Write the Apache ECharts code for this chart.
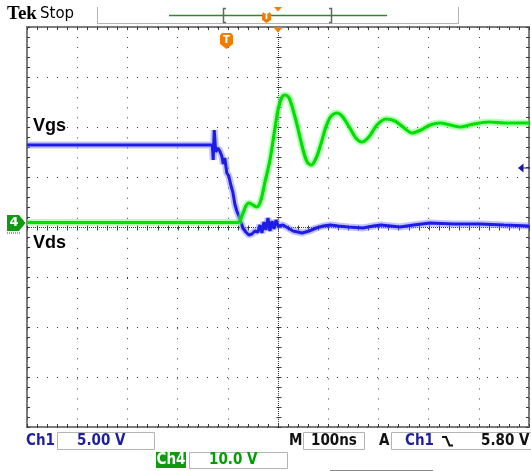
<!DOCTYPE html>
<html><head><meta charset="utf-8">
<script src="https://cdn.jsdelivr.net/npm/echarts@6/dist/echarts.min.js"></script>
<style>html,body{margin:0;padding:0;background:#fff}#c{width:531px;height:471px}</style>
</head><body><div id="c"></div>
<script>
// Time in ns relative to screen centre (100 ns/div, 10 div)
const ch1Time = [-500,-131,-129,-127,-124,-120,-116,-112,-109,-106,-102,-98,-94,-90,-86,-82,-78,-74,-70,-64,-58,-52,-46,-40,-36,-32,-28,-24,-20,-16,-12,-8,-4,0,10,20,30,48,62,76,90,104,120,140,169,190,205,243,270,303,350,402,450,500];
const ch1Volts = [8.1,8.1,6.6,9.6,7.4,7.8,7.5,7.0,6.2,6.8,5.3,5.0,4.1,3.4,2.2,1.5,1.0,0.4,-0.2,-0.6,-0.9,-0.8,-0.5,-0.6,0.1,-0.7,0.4,-0.4,0.8,-0.5,0.5,-0.3,0.6,0.0,0.1,-0.2,-0.5,-0.7,-0.5,-0.2,0.0,0.1,0.0,-0.1,-0.2,0.0,0.1,-0.1,0.1,0.3,0.2,0.2,0.1,0.0];
const ch4Time = [-500,-80,-72,-64,-58,-50,-42,-34,-26,-16,-6,0,8,14,22,30,38,50,58,66,76,86,96,106,118,129,143,155,167,181,197,215,233,249,267,285,303,323,343,363,382,402,422,452,500];
const ch4Volts = [0,0,1.3,3.3,3.9,3.5,3.1,4.5,8.1,12.5,18.9,22.5,25.1,25.5,24.9,22.5,19.5,14.5,12.1,11.5,12.9,15.9,19.3,21.3,21.9,21.1,18.9,16.9,16.1,17.1,19.5,20.7,20.3,19.1,17.9,18.5,19.5,19.9,19.5,19.1,19.5,19.9,20.1,19.9,19.9];
const ch1Label = 'Vgs', ch4Label = 'Vds';
const ch1Scale = '5.00 V', ch4Scale = '10.0 V', timeBase = '100ns', trigLevel = '5.80 V';

function zip(t, v) { return t.map((x, i) => [x, v[i]]); }

function drawGraticule(params, api) {
  const ch = [];
  const L = api.coord([-500, 0])[0], R = api.coord([500, 0])[0];
  const T = api.coord([0, 4])[1], B = api.coord([0, -4])[1];
  const c = api.coord([0, 0]);
  const cx = Math.round(c[0]) + 0.5, cy = Math.round(c[1]) + 0.5;
  const st = { stroke: '#3a3a3a', lineWidth: 1 };
  const line = (x1, y1, x2, y2, s) => ({ type: 'line', shape: { x1, y1, x2, y2 }, style: s || st });
  ch.push(line(cx, T, cx, B, { stroke: '#3a3a3a', lineWidth: 1, lineDash: [1, 1] }));
  ch.push(line(L, cy, R, cy, { stroke: '#3a3a3a', lineWidth: 1, lineDash: [1, 1] }));
  for (let k = -25; k <= 25; k++) {
    const x = Math.round(api.coord([k * 20, 0])[0]) + 0.5;
    ch.push(line(x, cy - 2, x, cy + 3));
    ch.push(line(x, T, x, T + 3));
    ch.push(line(x, B - 3, x, B));
  }
  for (let k = -20; k <= 20; k++) {
    const y = Math.round(api.coord([0, k * 0.2])[1]) + 0.5;
    ch.push(line(cx - 2, y, cx + 3, y));
    ch.push(line(L, y, L + 3, y));
    ch.push(line(R - 3, y, R, y));
  }
  return { type: 'group', children: ch };
}

const txt = (x, y, text, font, fill, align) => ({ type: 'text', silent: true, z: 100,
  style: { x, y, text, font, fill, align: align || 'left', verticalAlign: 'middle', textAlign: align || 'left', textVerticalAlign: 'middle' } });
const ln = (x1, y1, x2, y2, stroke, lw, extra) => ({ type: 'line', silent: true, z: 90,
  shape: { x1, y1, x2, y2 }, style: Object.assign({ stroke, lineWidth: lw || 1 }, extra || {}) });
const pl = (points, stroke, lw) => ({ type: 'polyline', silent: true, z: 90, shape: { points }, style: { stroke, lineWidth: lw || 1, fill: null } });
const rc = (x, y, w, h, style) => ({ type: 'rect', silent: true, z: 90, shape: { x, y, width: w, height: h }, style });
const pg = (points, fill) => ({ type: 'polygon', silent: true, z: 95, shape: { points }, style: { fill } });

const ORANGE = '#f07c00';
const FOOT = 'bold 15px "DejaVu Sans Condensed", "DejaVu Sans"';
const BLUE_T = '#1e1ea0', GREEN_T = '#00a000', BOXC = '#b4b4b4';

const graphics = [
  // header
  txt(7, 14.5, 'Tek', 'bold 19px "Liberation Serif"', '#000'),
  txt(40, 14.5, 'Stop', '15px "DejaVu Sans"', '#000'),
  ln(97.5, 7, 97.5, 24, BOXC), ln(97, 23.5, 459, 23.5, BOXC), ln(458.5, 7, 458.5, 24, BOXC),
  ln(169, 15.5, 387, 15.5, '#2a8a2a', 1.5),
  pl([[226, 8.5], [223.5, 8.5], [223.5, 22.5], [226, 22.5]], '#666', 1.5),
  pl([[329, 8.5], [331.5, 8.5], [331.5, 22.5], [329, 22.5]], '#666', 1.5),
  pg([[262, 14], [263.5, 12], [269.5, 12], [271, 14], [271, 20], [266.5, 23], [262, 20]], ORANGE),
  txt(266.5, 17, 'T', 'bold 8px "DejaVu Sans"', '#fff', 'center'),
  pg([[274, 7], [282, 7], [278, 11.5]], ORANGE),
  // plot markers
  pg([[273, 27], [283, 27], [278, 32.5]], ORANGE),
  pg([[220, 35.5], [222, 33], [231, 33], [233, 35.5], [233, 44], [226.5, 49], [220, 44]], ORANGE),
  txt(226.5, 40.5, 'T', 'bold 10px "DejaVu Sans"', '#fff', 'center'),
  txt(33, 126.5, ch1Label, 'bold 18px "Liberation Sans"', '#000'),
  txt(33, 243, ch4Label, 'bold 18px "Liberation Sans"', '#000'),
  pg([[7, 215], [19, 215], [25.5, 223], [19, 231], [7, 231]], '#109a10'),
  txt(14, 223, '4', 'bold 13px "DejaVu Sans"', '#fff', 'center'),
  ln(7, 233, 21, 233, '#3030c0', 1, { lineDash: [1, 1] }),
  pg([[518, 168], [523.5, 163.5], [523.5, 172.5]], '#1a1a9a'),
  ln(523, 168, 530, 168, '#1a1a9a', 1),
  // footer row 1
  txt(26, 441, 'Ch1', FOOT, BLUE_T),
  rc(57.5, 432.5, 97, 17, { fill: null, stroke: BOXC, lineWidth: 1 }),
  txt(77, 441, ch1Scale, FOOT, BLUE_T),
  txt(289, 441, 'M', FOOT, '#111'),
  rc(303.5, 432.5, 61, 17, { fill: null, stroke: BOXC, lineWidth: 1 }),
  txt(311, 441, timeBase, FOOT, '#111'),
  txt(379, 441, 'A', FOOT, '#111'),
  rc(391.5, 432.5, 145, 17, { fill: null, stroke: BOXC, lineWidth: 1 }),
  txt(405, 441, 'Ch1', FOOT, BLUE_T),
  pl([[442, 437], [446, 437], [449.5, 445.5], [453, 445.5]], '#111', 2),
  txt(481, 441, trigLevel, FOOT, '#111'),
  // footer row 2
  rc(156, 452, 30, 16, { fill: '#0f9a0f' }),
  txt(171, 460, 'Ch4', FOOT, '#fff', 'center'),
  rc(189.5, 452.5, 98, 16, { fill: null, stroke: BOXC, lineWidth: 1 }),
  txt(209, 460, ch4Scale, FOOT, GREEN_T),
  ln(330, 470.5, 433, 470.5, '#888', 1)
];

const chart = echarts.init(document.getElementById('c'));
chart.setOption({
  animation: false,
  backgroundColor: '#fff',
  grid: { left: 27, top: 27, right: 2, bottom: 44, show: true, borderColor: '#7c7c7c', borderWidth: 2, backgroundColor: 'transparent' },
  xAxis: [{ type: 'value', min: -500, max: 500, interval: 100,
    axisLine: { show: false }, axisTick: { show: false }, axisLabel: { show: false },
    splitLine: { show: true, lineStyle: { color: '#3a3a3a', width: 1, type: [1, 9.04] } } }],
  yAxis: [
    { type: 'value', min: -4, max: 4, interval: 1,
      axisLine: { show: false }, axisTick: { show: false }, axisLabel: { show: false },
      splitLine: { show: true, lineStyle: { color: '#3a3a3a', width: 1, type: [1, 9] } } },
    { type: 'value', min: -20.1, max: 19.9, show: false, splitLine: { show: false } },
    { type: 'value', min: -40.9, max: 39.1, show: false, splitLine: { show: false } }
  ],
  series: [
    { type: 'custom', renderItem: drawGraticule, data: [[0, 0]], xAxisIndex: 0, yAxisIndex: 0, silent: true, z: 1, clip: false },
    { name: 'Ch1 halo', type: 'line', data: zip(ch1Time, ch1Volts), yAxisIndex: 1, showSymbol: false, silent: true,
      lineStyle: { width: 7, color: 'rgba(120,120,255,0.45)' }, z: 3 },
    { name: 'Ch1', type: 'line', data: zip(ch1Time, ch1Volts), yAxisIndex: 1, showSymbol: false, silent: true,
      lineStyle: { width: 3, color: '#1c1ce6' }, z: 4 },
    { name: 'Ch4 halo', type: 'line', data: zip(ch4Time, ch4Volts), yAxisIndex: 2, showSymbol: false, silent: true, smooth: 0.3,
      lineStyle: { width: 7, color: 'rgba(110,255,110,0.5)' }, z: 5 },
    { name: 'Ch4', type: 'line', data: zip(ch4Time, ch4Volts), yAxisIndex: 2, showSymbol: false, silent: true, smooth: 0.3,
      lineStyle: { width: 3.2, color: '#00e000' }, z: 6 }
  ],
  graphic: graphics
});
</script></body></html>
